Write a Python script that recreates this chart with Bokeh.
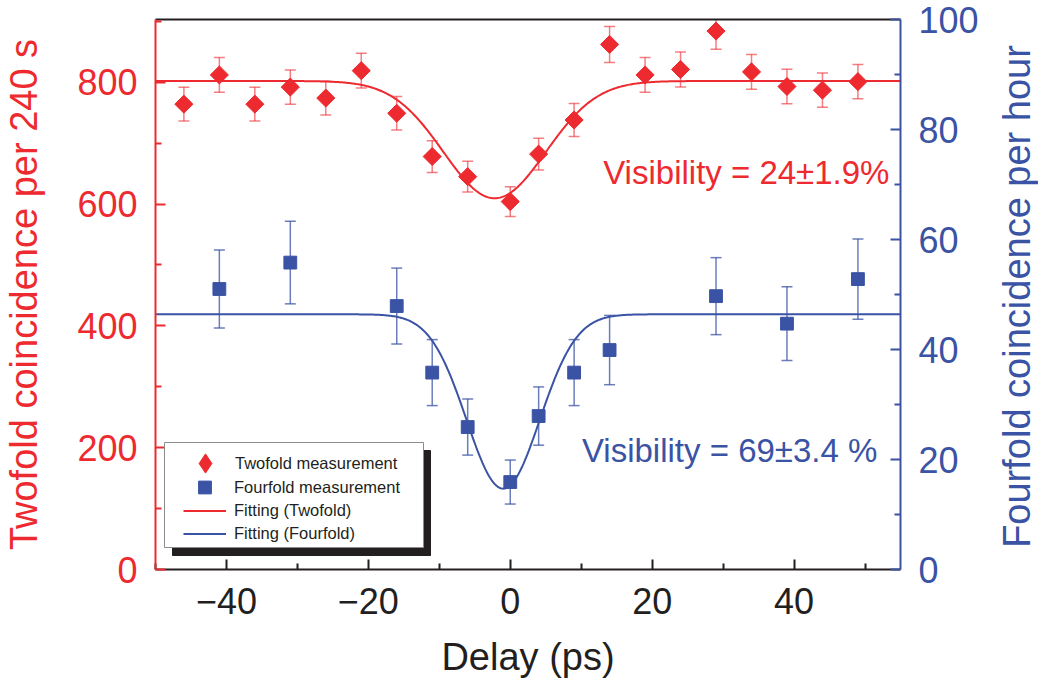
import numpy as np
from bokeh.plotting import figure
from bokeh.layouts import row
from bokeh.models import (Range1d, LinearAxis, FixedTicker, ColumnDataSource, Whisker, TeeHead,
                          Legend, LegendItem, Label, BoxAnnotation)
from bokeh.embed import file_html
from bokeh.resources import INLINE

# ---------------- data ----------------
two_x = [-46, -41, -36, -31, -26, -21, -16, -11, -6, 0, 4, 9, 14, 19, 24, 29, 34, 39, 44, 49]
two_y = [764, 812, 764, 792, 774, 819, 749, 678, 645, 604, 682, 738, 862, 812, 821, 884, 817, 793, 787, 801]
two_err = [27.6, 28.5, 27.6, 28.1, 27.8, 28.6, 27.4, 26.0, 25.4, 24.6, 26.1, 27.2, 29.4, 28.5, 28.7, 29.7, 28.6, 28.2, 28.1, 28.3]

four_x = [-41, -31, -16, -11, -6, 0, 4, 9, 14, 29, 39, 49]
four_y = [51.0, 55.8, 47.9, 35.8, 25.9, 15.9, 27.9, 35.8, 39.9, 49.7, 44.7, 52.8]
four_err = [7.1, 7.5, 6.9, 6.0, 5.1, 4.0, 5.3, 6.0, 6.3, 7.0, 6.7, 7.3]

# Gaussian-dip fit parameters (baseline, dip depth, centre, sigma)
two_fit = dict(base=802.0, depth=192.5, center=-2.2, sigma=7.2)
four_fit = dict(base=46.4, depth=31.7, center=-1.0, sigma=5.15)

x_ticks = [-40, -20, 0, 20, 40]
x_tick_labels = ["\u221240", "\u221220", "0", "20", "40"]
x_minor = [-50, -30, -10, 10, 30, 50]
left_ticks = [0, 200, 400, 600, 800]
left_minor = [100, 300, 500, 700, 900]
right_ticks = [0, 20, 40, 60, 80, 100]
right_minor = [10, 30, 50, 70, 90]

RED = "#ED2A2F"
BLUE = "#3A53A4"
DARK = "#231F20"
FONT = "Liberation Sans"

p = figure(width=995, height=681, x_range=Range1d(-50, 55), y_range=Range1d(0, 903),
           output_backend="svg", toolbar_location=None,
           min_border_left=155, min_border_right=95, min_border_top=19, min_border_bottom=112)
p.extra_y_ranges = {"right": Range1d(0, 100)}
p.outline_line_color = None
p.xgrid.visible = False
p.ygrid.visible = False
p.background_fill_color = "white"


def style_axis(ax, color, ticks, minor, label=None, standoff=16):
    ax.ticker = FixedTicker(ticks=ticks, minor_ticks=minor)
    ax.axis_line_color = color
    ax.axis_line_width = 2
    ax.major_tick_line_color = color
    ax.minor_tick_line_color = color
    ax.major_tick_line_width = 2
    ax.minor_tick_line_width = 2
    ax.major_tick_in = 10
    ax.major_tick_out = 0
    ax.minor_tick_in = 6
    ax.minor_tick_out = 0
    ax.major_label_text_color = color
    ax.major_label_text_font = FONT
    ax.major_label_text_font_size = "36px"
    ax.major_label_standoff = standoff
    if label:
        ax.axis_label = label
        ax.axis_label_text_color = color
        ax.axis_label_text_font = FONT
        ax.axis_label_text_font_size = "38px"
        ax.axis_label_text_font_style = "normal"


xa = p.xaxis[0]
style_axis(xa, DARK, x_ticks, x_minor, "Delay (ps)", standoff=18)
xa.major_label_overrides = dict(zip(x_ticks, x_tick_labels))
xa.axis_label_standoff = 19

ya = p.yaxis[0]
style_axis(ya, RED, left_ticks, left_minor, "Twofold coincidence per 240 s", standoff=18)
ya.axis_label_standoff = 29

ra = LinearAxis(y_range_name="right")
style_axis(ra, BLUE, right_ticks, right_minor, None, standoff=18)
p.add_layout(ra, "right")

ta = LinearAxis(ticker=FixedTicker(ticks=[]), axis_line_color=DARK, axis_line_width=2,
                major_tick_in=0, major_tick_out=0, minor_tick_in=0, minor_tick_out=0,
                major_label_text_font_size="0px")
p.add_layout(ta, "above")

# ---------------- sources ----------------
two_src = ColumnDataSource(dict(x=two_x, y=two_y,
                                lo=[v - e for v, e in zip(two_y, two_err)],
                                hi=[v + e for v, e in zip(two_y, two_err)]))
four_src = ColumnDataSource(dict(x=four_x, y=four_y,
                                 lo=[v - e for v, e in zip(four_y, four_err)],
                                 hi=[v + e for v, e in zip(four_y, four_err)]))

xf = np.linspace(-50, 55, 600)
two_fit_y = two_fit["base"] - two_fit["depth"] * np.exp(-(xf - two_fit["center"]) ** 2 / (2 * two_fit["sigma"] ** 2))
four_fit_y = four_fit["base"] - four_fit["depth"] * np.exp(-(xf - four_fit["center"]) ** 2 / (2 * four_fit["sigma"] ** 2))

# fit lines
r_fit2 = p.line(xf, two_fit_y, line_color=RED, line_width=2)
r_fit4 = p.line(xf, four_fit_y, line_color=BLUE, line_width=2, y_range_name="right")

# error bars
w2 = Whisker(source=two_src, base="x", lower="lo", upper="hi", dimension="height",
             line_color=RED, line_alpha=0.6, line_width=1.5,
             upper_head=TeeHead(size=11, line_color=RED, line_alpha=0.6, line_width=1.5),
             lower_head=TeeHead(size=11, line_color=RED, line_alpha=0.6, line_width=1.5))
p.add_layout(w2)
w4 = Whisker(source=four_src, base="x", lower="lo", upper="hi", dimension="height",
             y_range_name="right",
             line_color=BLUE, line_alpha=0.75, line_width=1.5,
             upper_head=TeeHead(size=11, line_color=BLUE, line_alpha=0.75, line_width=1.5),
             lower_head=TeeHead(size=11, line_color=BLUE, line_alpha=0.75, line_width=1.5))
p.add_layout(w4)

r_two = p.scatter("x", "y", source=two_src, marker="square", angle=np.pi / 4, size=12.8,
                  fill_color=RED, line_color=RED)
r_four = p.scatter("x", "y", source=four_src, marker="square", size=12.8,
                   fill_color=BLUE, line_color=BLUE, y_range_name="right")
# hidden twin of the twofold series, used only for its diamond legend symbol
r_two_key = p.scatter("x", "y", source=two_src, marker="diamond", size=12.8,
                      fill_color=RED, line_color=RED, visible=False)

# visibility annotations
p.add_layout(Label(x=13.1, y=652, text="Visibility = 24\u00b11.9%", text_color=RED,
                   text_font=FONT, text_font_size="33px", text_baseline="alphabetic"))
p.add_layout(Label(x=10.1, y=21.7, y_range_name="right", text="Visibility = 69\u00b13.4 %",
                   text_color=BLUE, text_font=FONT, text_font_size="33px",
                   text_baseline="alphabetic"))

# legend with shadow
shadow = BoxAnnotation(left=17, right=275, bottom=14, top=119,
                       left_units="screen", right_units="screen", top_units="screen", bottom_units="screen",
                       fill_color=DARK, fill_alpha=1, line_color=DARK, line_alpha=1)
box = BoxAnnotation(left=9, right=268, bottom=22, top=127,
                    left_units="screen", right_units="screen", top_units="screen", bottom_units="screen",
                    fill_color="white", fill_alpha=1, line_color="#8C8C8C", line_alpha=1, line_width=1)
p.add_layout(shadow)
p.add_layout(box)

common = dict(orientation="vertical", padding=0, spacing=0, margin=0,
              label_text_font=FONT, label_text_font_size="16.5px", label_text_color=DARK,
              border_line_color=None, background_fill_alpha=0)
leg_a = Legend(items=[LegendItem(label="Twofold measurement", renderers=[r_two_key])],
               location=(26, 82), glyph_width=48, glyph_height=48, label_height=48,
               label_standoff=6, **common)
leg_b = Legend(items=[LegendItem(label="Fourfold measurement", renderers=[r_four])],
               location=(28, 66), glyph_width=43, glyph_height=32, label_height=32,
               label_standoff=8, **common)
leg_c = Legend(items=[LegendItem(label="Fitting (Twofold)", renderers=[r_fit2]),
                      LegendItem(label="Fitting (Fourfold)", renderers=[r_fit4])],
               location=(28, 24), glyph_width=43, glyph_height=23, label_height=23,
               label_standoff=8, **common)
p.add_layout(leg_a, "center")
p.add_layout(leg_b, "center")
p.add_layout(leg_c, "center")

# right-hand axis title, in a narrow strip next to the plot (its frame aligns with the plot frame)
p2 = figure(width=43, height=681, output_backend="svg", toolbar_location=None,
            x_axis_location=None, y_axis_location=None, min_border=0,
            x_range=Range1d(0, 1), y_range=Range1d(0, 1))
p2.outline_line_color = None
p2.xgrid.visible = False
p2.ygrid.visible = False
p2.add_layout(Label(x=21, y=273, x_units="screen", y_units="screen", angle=np.pi / 2,
                    text="Fourfold coincidence per hour", text_color=BLUE, text_font=FONT,
                    text_font_size="38px", text_align="center", text_baseline="middle"))

open("out.html", "w").write(file_html(row(p, p2), INLINE))
